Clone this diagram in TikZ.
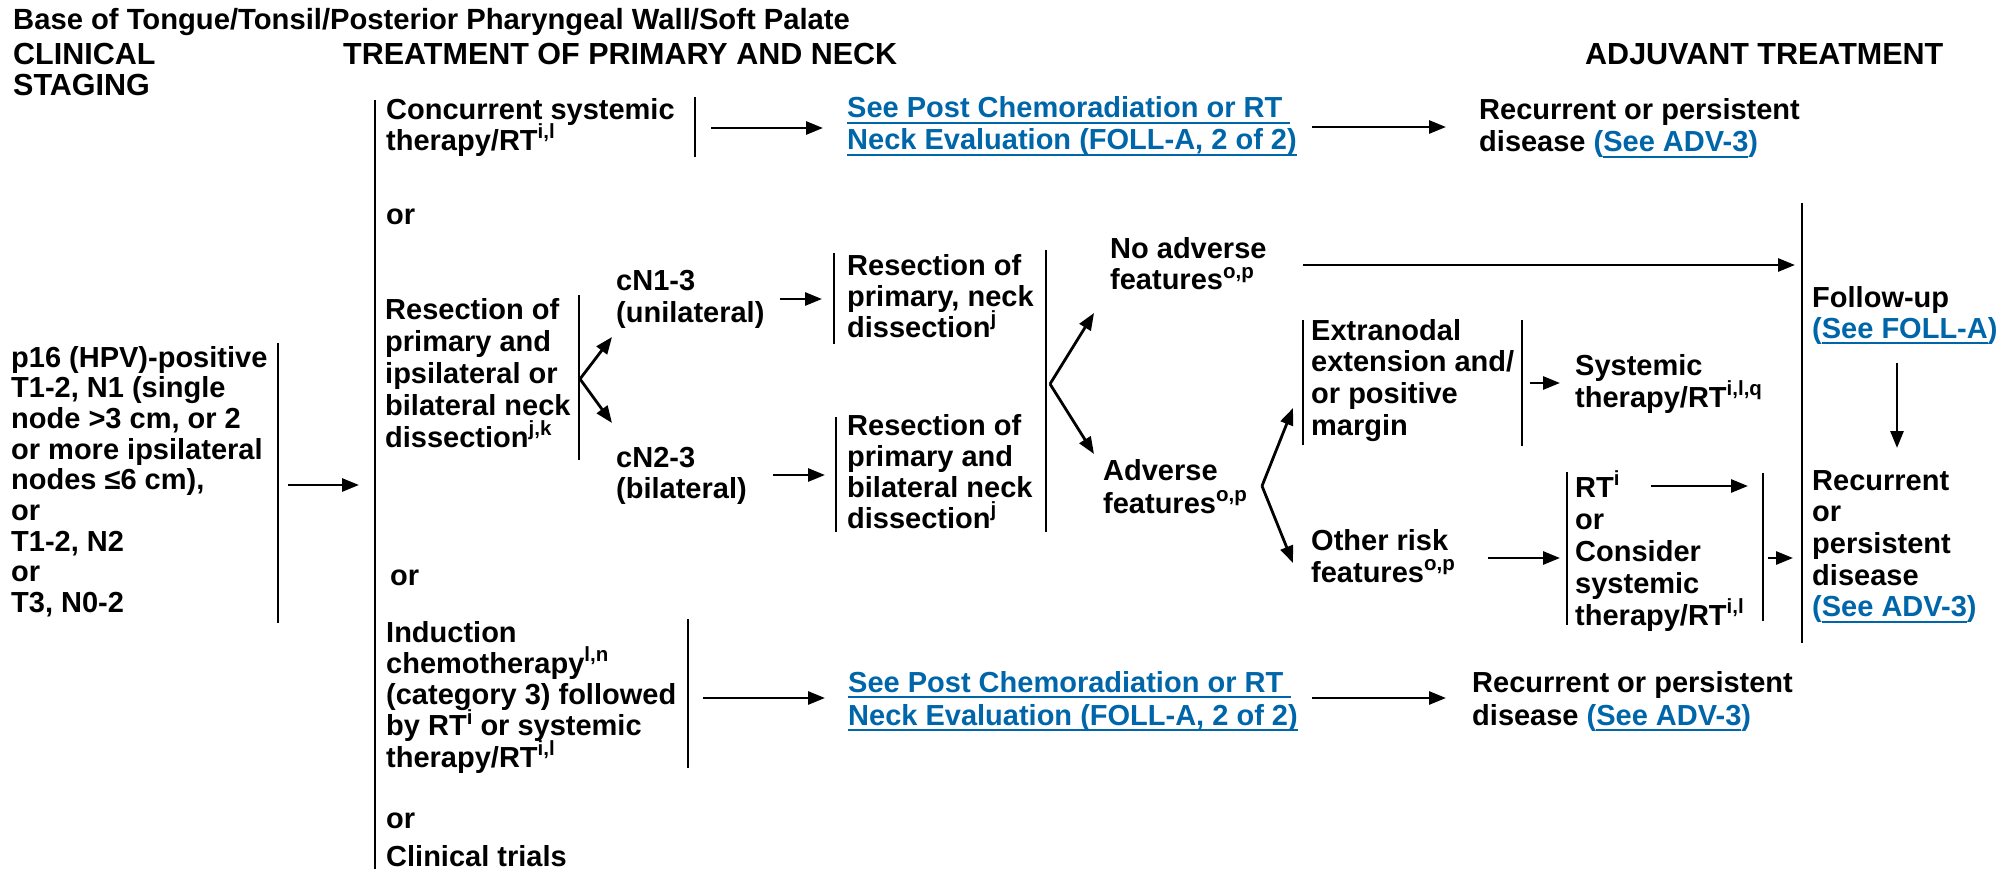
\documentclass[tikz,border=0pt]{standalone}
\usepackage{fontspec}
\setmainfont{Liberation Sans}
\usetikzlibrary{arrows.meta}
\definecolor{linkblue}{RGB}{0,102,170}
% multi-line left-aligned block, baseline at first line
\newcommand\ml[2][31.5]{{\fontsize{29}{#1}\selectfont\begin{tabular}[t]{@{}l@{}}#2\end{tabular}}}
\newcommand\hml[2][30]{{\fontsize{30.5}{#1}\selectfont\begin{tabular}[t]{@{}l@{}}#2\end{tabular}}}
\newcommand\sps[1]{\smash{\raisebox{11.5pt}{\fontsize{20.5}{20}\selectfont #1}}}
% underlined link text
\newcommand\lnk[1]{{\color{linkblue}\setbox0=\hbox{#1}\rlap{\rule[-6pt]{\wd0}{2.2pt}}\box0}}
\newcommand\plnk[1]{{\color{linkblue}(\lnk{#1})}}

\tikzset{
  txt/.style={anchor=base west, inner sep=0pt, font=\bfseries},
  bar/.style={line width=2.5pt},
  arr/.style={line width=2.8pt, -{Triangle[length=17pt,width=13pt]}},
}

\begin{document}
\begin{tikzpicture}[x=1pt,y=-1pt]
\useasboundingbox[fill=white] (0,0) rectangle (1999,869);

% headings
\node[txt] (title) at (13,30) {\fontsize{29.2}{30}\selectfont\bfseries Base of Tongue/Tonsil/Posterior Pharyngeal Wall/Soft Palate};
\node[txt] (hstage) at (13,65) {\hml{CLINICAL\\STAGING}};
\node[txt] (htreat) at (343,65) {\hml{TREATMENT OF PRIMARY AND NECK}};
\node[txt] (hadj) at (1585,65) {\hml{ADJUVANT TREATMENT}};

% clinical staging
\node[txt] (stage) at (11,367) {\ml[30.7]{p16 (HPV)-positive\\T1-2, N1 (single\\node >3 cm, or 2\\or more ipsilateral\\nodes ≤6 cm),\\or\\T1-2, N2\\or\\T3, N0-2}};
\draw[bar] (278,343) -- (278,623);
\coordinate (stageOut) at (288,485);
\coordinate (treatIn) at (359,485);
\draw[arr] (stageOut) -- (treatIn);

% treatment options bar
\draw[bar] (375,100) -- (375,869);

% concurrent systemic therapy
\node[txt] (conc) at (386,120) {\ml[30]{Concurrent systemic\\therapy/RT\sps{i,l}}};
\draw[bar] (695,97) -- (695,157);
\coordinate (concOut) at (711,128);
\coordinate (link1In) at (823,128);
\draw[arr] (concOut) -- (link1In);
\node[txt] (link1) at (847,118) {\ml[32]{\lnk{See Post Chemoradiation or RT\ }\\\lnk{Neck Evaluation (FOLL-A, 2 of 2)}}};
\coordinate (link1Out) at (1312,127);
\coordinate (rec1In) at (1446,127);
\draw[arr] (link1Out) -- (rec1In);
\node[txt] (rec1) at (1479,120) {\ml[32]{Recurrent or persistent\\disease \plnk{See ADV-3}}};

\node[txt] (or1) at (386,225) {\ml{or}};

% resection
\node[txt] (resec) at (385,319) {\ml[32]{Resection of\\primary and\\ipsilateral or\\bilateral neck\\dissection\sps{j,k}}};
\draw[bar] (579,295) -- (579,460);
\coordinate (resecV) at (580,379);
\coordinate (cn1In) at (612,337);
\coordinate (cn2In) at (612,423);
\draw[arr] (resecV) -- (cn1In);
\draw[arr] (resecV) -- (cn2In);

\node[txt] (cn1) at (616,290) {\ml[32]{cN1-3\\(unilateral)}};
\node[txt] (cn2) at (616,467) {\ml[31]{cN2-3\\(bilateral)}};
\coordinate (cn1Out) at (780,299);
\coordinate (res1In) at (822,299);
\draw[arr] (cn1Out) -- (res1In);
\coordinate (cn2Out) at (773,475);
\coordinate (res2In) at (825,475);
\draw[arr] (cn2Out) -- (res2In);

\draw[bar] (834,253) -- (834,344);
\node[txt] (res1) at (847,275) {\ml[31]{Resection of\\primary, neck\\dissection\sps{j}}};
\draw[bar] (836,417) -- (836,532);
\node[txt] (res2) at (847,435) {\ml[31]{Resection of\\primary and\\bilateral neck\\dissection\sps{j}}};

\draw[bar] (1046,250) -- (1046,532);
\coordinate (resV) at (1050,384);
\coordinate (noadvIn) at (1094,313);
\coordinate (advIn) at (1094,454);
\draw[arr] (resV) -- (noadvIn);
\draw[arr] (resV) -- (advIn);

\node[txt] (noadv) at (1110,258) {\ml[32]{No adverse\\features\sps{o,p}}};
\node[txt] (adv) at (1103,480) {\ml[33]{Adverse\\features\sps{o,p}}};

% adverse features branches
\coordinate (advV) at (1262,486);
\coordinate (extIn) at (1293,408);
\coordinate (othIn) at (1293,563);
\draw[arr] (advV) -- (extIn);
\draw[arr] (advV) -- (othIn);

\draw[bar] (1303,320) -- (1303,445);
\node[txt] (ext) at (1311,340) {\ml[31.7]{Extranodal\\extension and/\\or positive\\margin}};
\draw[bar] (1522,320) -- (1522,446);
\coordinate (extOut) at (1530,383);
\coordinate (sysIn) at (1560,383);
\draw[arr] (extOut) -- (sysIn);
\node[txt] (sys) at (1575,375) {\ml[32]{Systemic\\therapy/RT\sps{i,l,q}}};

\node[txt] (oth) at (1311,550) {\ml[32]{Other risk\\features\sps{o,p}}};
\coordinate (othOut) at (1488,558);
\coordinate (rtIn) at (1560,558);
\draw[arr] (othOut) -- (rtIn);

\draw[bar] (1567,472) -- (1567,625);
\node[txt] (rt) at (1575,497) {\ml[32]{RT\sps{i}\\or\\Consider\\systemic\\therapy/RT\sps{i,l}}};
\coordinate (rtOut) at (1651,486);
\coordinate (rtBar) at (1748,486);
\draw[arr] (rtOut) -- (rtBar);
\draw[bar] (1763,473) -- (1763,621);
\coordinate (rtBarOut) at (1768,558);
\coordinate (adjIn) at (1793,558);
\draw[arr] (rtBarOut) -- (adjIn);

% follow-up column
\coordinate (noadvOut) at (1303,265);
\coordinate (fuIn) at (1795,265);
\draw[arr] (noadvOut) -- (fuIn);
\draw[bar] (1802,203) -- (1802,643);
\node[txt] (fu) at (1812,307) {\ml[31]{Follow-up\\\plnk{See FOLL-A}}};
\coordinate (fuOut) at (1897,363);
\coordinate (rec2In) at (1897,448);
\draw[arr] (fuOut) -- (rec2In);
\node[txt] (rec2) at (1812,490) {\ml[31.7]{Recurrent\\or\\persistent\\disease\\\plnk{See ADV-3}}};

% induction chemotherapy
\node[txt] (or2) at (390,585) {\ml{or}};
\node[txt] (ind) at (386,642) {\ml[31.3]{Induction\\chemotherapy\sps{l,n}\\(category 3) followed\\by RT\sps{i} or systemic\\therapy/RT\sps{i,l}}};
\draw[bar] (688,619) -- (688,768);
\coordinate (indOut) at (703,698);
\coordinate (link2In) at (825,698);
\draw[arr] (indOut) -- (link2In);
\node[txt] (link2) at (848,692) {\ml[33]{\lnk{See Post Chemoradiation or RT\ }\\\lnk{Neck Evaluation (FOLL-A, 2 of 2)}}};
\coordinate (link2Out) at (1312,698);
\coordinate (rec3In) at (1446,698);
\draw[arr] (link2Out) -- (rec3In);
\node[txt] (rec3) at (1472,692) {\ml[33]{Recurrent or persistent\\disease \plnk{See ADV-3}}};

\node[txt] (or3) at (386,828) {\ml{or}};
\node[txt] (trials) at (386,866) {\ml{Clinical trials}};
\end{tikzpicture}
\end{document}
